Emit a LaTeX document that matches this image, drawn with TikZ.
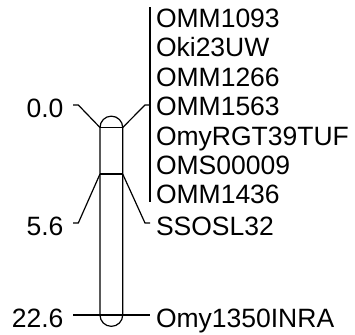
\documentclass[tikz,border=0pt]{standalone}
\usepackage{fontspec}
\setmainfont{Liberation Sans}
\begin{document}
\begin{tikzpicture}[x=1bp,y=-1bp,line width=1.2bp,line join=miter,
  lbl/.style={font=\fontsize{26.5bp}{30bp}\selectfont,inner ysep=0pt,text height=19bp,text depth=0bp},
  rlab/.style={lbl,anchor=west,inner xsep=0pt},
  llab/.style={lbl,anchor=east,inner xsep=9bp}]
\useasboundingbox (0,0) rectangle (355,335);
% chromosome
\coordinate (t0l) at (100,127.5);
\coordinate (t0r) at (122.7,127.5);
\coordinate (t1l) at (100,174);
\coordinate (t1r) at (122.7,174);
\coordinate (t2l) at (100,315);
\coordinate (t2r) at (122.7,315);
\draw (t2l) -- (t0l) arc[start angle=180,end angle=360,radius=11.35] -- (t2r)
      arc[start angle=0,end angle=180,radius=11.35];
\draw (t0l) -- (t0r);
\draw (t1l) -- (t1r);
% left labels
\node[llab] (p0) at (73,108) {0.0};
\node[llab] (p1) at (73,226) {5.6};
\node[llab] (p2) at (73,318) {22.6};
% bar and right labels
\coordinate (bt) at (150,7);
\coordinate (bb) at (150,202);
\coordinate (b0) at (150,105);
\coordinate (b1) at (150,223);
\coordinate (b2) at (150,315);
\draw (bt) -- (bb);
\node[rlab] (m1) at (155.4,18) {OMM1093};
\node[rlab] (m2) at (155.4,47.4) {Oki23UW};
\node[rlab] (m3) at (155.4,76.8) {OMM1266};
\node[rlab] (m4) at (155.4,106.2) {OMM1563};
\node[rlab] (m5) at (155.4,135.6) {OmyRGT39TUF};
\node[rlab] (m6) at (155.4,165) {OMS00009};
\node[rlab] (m7) at (155.4,194.4) {OMM1436};
\node[rlab] (m8) at (155.4,226) {SSOSL32};
\node[rlab] (m9) at (155.4,318) {Omy1350INRA};
% ticks
\coordinate (q0) at (73,105);
\coordinate (q1) at (73,223);
\coordinate (q2) at (73,315);
\draw (q0) -- ++(5.3,0) -- (t0l);
\draw (t0r) -- (145,105) -- (b0);
\draw (q1) -- ++(5.3,0) -- (t1l);
\draw (t1r) -- (145,223) -- (b1);
\draw (q2) -- (b2);
\end{tikzpicture}
\end{document}
